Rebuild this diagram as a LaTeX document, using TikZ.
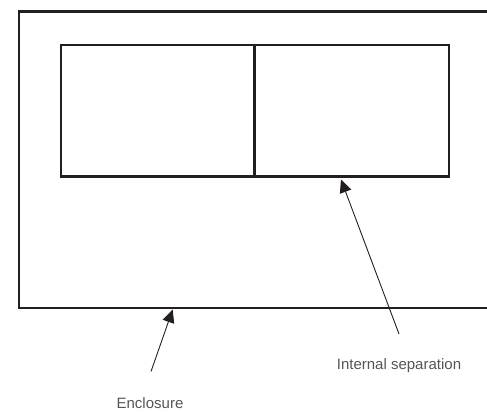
\documentclass[tikz,border=0pt]{standalone}
\usepackage{fontspec}
\setmainfont{Liberation Sans}
\usetikzlibrary{arrows.meta}
\definecolor{wallblack}{RGB}{35,31,32}
\definecolor{notegray}{RGB}{85,85,85}

\begin{document}
\begin{tikzpicture}[x=0.5pt,y=-0.5pt,
    wall/.style={draw=wallblack,line width=1.1pt},
    pointer/.style={draw=wallblack,line width=0.45pt,-{Triangle[length=6.5pt,width=6pt]}},
    note/.style={text=notegray,font=\fontsize{7.5}{9}\selectfont,inner sep=0pt}]
    \useasboundingbox (0,0) rectangle (487,412);
    % enclosure, open towards the right edge
    \draw[wall] (487,11.5) -- (19,11.5) -- (19,308) -- (487,308);
    % the two rooms and the separation between them
    \draw[wall] (61,45.3) rectangle (254.5,176.5);
    \draw[wall] (254.5,45.3) rectangle (449,176.5);
    \node[note] (sep label) at (399,366) {Internal separation};
    \node[note] (enc label) at (150,403) {Enclosure};
    \coordinate (sep tail) at (399,334);\coordinate (sep tip) at (341,179.5);
    \coordinate (enc tail) at (151,371.5);\coordinate (enc tip) at (172.7,309.5);
    \draw[pointer] (sep tail) -- (sep tip);
    \draw[pointer] (enc tail) -- (enc tip);
  \end{tikzpicture}
\end{document}
